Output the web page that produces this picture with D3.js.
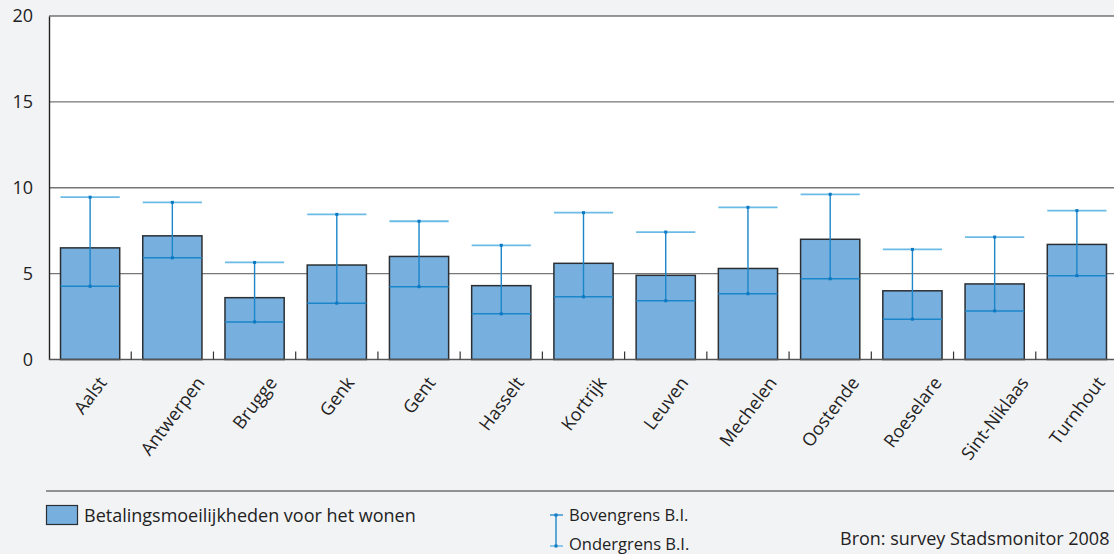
<!DOCTYPE html>
<html>
<head>
<meta charset="utf-8">
<script src="https://cdn.jsdelivr.net/npm/d3@7"></script>
<style>
  html, body { margin: 0; padding: 0; background: #f2f3f5; overflow: hidden; }
  svg { display: block; font-family: "Open Sans", "Noto Sans", sans-serif; }
</style>
</head>
<body>
<svg id="chart" width="1114" height="554"></svg>
<script>
// Steden en aandeel met betalingsmoeilijkheden (%), met betrouwbaarheidsinterval
const cities = ["Aalst", "Antwerpen", "Brugge", "Genk", "Gent", "Hasselt", "Kortrijk",
  "Leuven", "Mechelen", "Oostende", "Roeselare", "Sint-Niklaas", "Turnhout"];
const shares = [6.5, 7.2, 3.6, 5.5, 6.0, 4.3, 5.6, 4.9, 5.3, 7.0, 4.0, 4.4, 6.7];
const upper  = [9.45, 9.15, 5.65, 8.45, 8.05, 6.65, 8.55, 7.42, 8.86, 9.62, 6.41, 7.13, 8.67];
const lower  = [4.26, 5.92, 2.19, 3.28, 4.24, 2.66, 3.65, 3.42, 3.83, 4.70, 2.35, 2.83, 4.88];
const yTicks = [0, 5, 10, 15, 20];

const svg = d3.select("#chart");
const plotLeft = 49, plotRight = 1118, plotTop = 16, plotBottom = 359.5;

const x = d3.scaleBand().domain(cities).range([plotLeft, plotRight]).paddingInner(0.28).paddingOuter(0.14);
const y = d3.scaleLinear().domain([0, 20]).range([plotBottom, plotTop]);

// plot background
svg.append("rect").attr("x", plotLeft).attr("y", plotTop)
  .attr("width", plotRight - plotLeft).attr("height", plotBottom - plotTop).attr("fill", "#ffffff");

// horizontal grid lines
svg.append("g").selectAll("line").data(yTicks.filter(d => d > 0 && d < 20)).join("line")
  .attr("x1", plotLeft).attr("x2", plotRight)
  .attr("y1", d => y(d)).attr("y2", d => y(d))
  .attr("stroke", "#777").attr("stroke-width", 1.4);

// top border
svg.append("line").attr("x1", plotLeft).attr("x2", plotRight).attr("y1", plotTop).attr("y2", plotTop)
  .attr("stroke", "#333").attr("stroke-width", 1.2);

// y axis labels
const yAxis = d3.axisLeft(y).tickValues(yTicks).tickSize(0).tickPadding(16);
const gy = svg.append("g").attr("transform", `translate(${plotLeft},0)`).call(yAxis);
gy.select(".domain").attr("stroke", "#222").attr("stroke-width", 1.4);
gy.selectAll("text").attr("font-size", 18).attr("fill", "#222")
  .attr("font-family", "'Open Sans', sans-serif");

// bars
svg.append("g").selectAll("rect").data(cities).join("rect")
  .attr("x", d => x(d)).attr("width", x.bandwidth())
  .attr("y", (d, i) => y(shares[i])).attr("height", (d, i) => y(0) - y(shares[i]))
  .attr("fill", "#77b0de").attr("stroke", "#2b2f33").attr("stroke-width", 1.5);

// confidence intervals
const ci = svg.append("g");
cities.forEach((c, i) => {
  const cx = x(c) + x.bandwidth() / 2;
  ci.append("line").attr("x1", x(c)).attr("x2", x(c) + x.bandwidth())
    .attr("y1", y(upper[i])).attr("y2", y(upper[i]))
    .attr("stroke", "#6bbbe6").attr("stroke-width", 1.8);
  ci.append("line").attr("x1", x(c)).attr("x2", x(c) + x.bandwidth())
    .attr("y1", y(lower[i])).attr("y2", y(lower[i]))
    .attr("stroke", "#1b86c9").attr("stroke-width", 1.5);
  ci.append("line").attr("x1", cx).attr("x2", cx)
    .attr("y1", y(upper[i])).attr("y2", y(lower[i]))
    .attr("stroke", "#1b86c9").attr("stroke-width", 1.4);
  [upper[i], lower[i]].forEach(v => {
    ci.append("rect").attr("x", cx - 1.5).attr("y", y(v) - 1.5)
      .attr("width", 3).attr("height", 3).attr("fill", "#0a78c2");
  });
});

// x axis baseline and separating ticks
svg.append("line").attr("x1", plotLeft).attr("x2", plotRight).attr("y1", plotBottom).attr("y2", plotBottom)
  .attr("stroke", "#555").attr("stroke-width", 1.6);
const step = x.step();
const boundaries = d3.range(1, cities.length).map(i => x(cities[i]) - step * x.paddingInner() / 2);
svg.append("g").selectAll("line").data(boundaries).join("line")
  .attr("x1", d => d).attr("x2", d => d).attr("y1", plotBottom).attr("y2", plotBottom - 8)
  .attr("stroke", "#333").attr("stroke-width", 1.2);

// rotated category labels: each label's box is centred under its bar and hangs from a common top line
const angle = 53, rad = angle * Math.PI / 180, capH = 13, labelTop = 375;
svg.append("g").selectAll("text").data(cities).join("text")
  .attr("text-anchor", "middle").attr("y", capH / 2)
  .attr("font-size", 18).attr("fill", "#222").text(d => d)
  .attr("transform", function (d) {
    const len = this.getComputedTextLength();
    const halfH = (len * Math.sin(rad) + capH * Math.cos(rad)) / 2;
    return `translate(${x(d) + x.bandwidth() / 2},${labelTop + halfH}) rotate(${-angle})`;
  });

// legend
svg.append("line").attr("x1", 46).attr("x2", 1114).attr("y1", 491).attr("y2", 491)
  .attr("stroke", "#333").attr("stroke-width", 1);
svg.append("rect").attr("x", 46.5).attr("y", 505.5).attr("width", 31).attr("height", 19)
  .attr("fill", "#77b0de").attr("stroke", "#2b2f33").attr("stroke-width", 1.2);
svg.append("text").attr("x", 84).attr("y", 522).attr("font-size", 18).attr("fill", "#222")
  .text("Betalingsmoeilijkheden voor het wonen");

const lg = svg.append("g");
lg.append("line").attr("x1", 556).attr("x2", 556).attr("y1", 515).attr("y2", 546)
  .attr("stroke", "#1b86c9").attr("stroke-width", 1.4);
lg.append("line").attr("x1", 550).attr("x2", 563).attr("y1", 515).attr("y2", 515)
  .attr("stroke", "#1b86c9").attr("stroke-width", 1.3);
lg.append("line").attr("x1", 550).attr("x2", 563).attr("y1", 546).attr("y2", 546)
  .attr("stroke", "#6bbbe6").attr("stroke-width", 1.5);
[515, 546].forEach(yy => lg.append("rect").attr("x", 554.5).attr("y", yy - 1.5)
  .attr("width", 3).attr("height", 3).attr("fill", "#0a78c2"));
lg.append("text").attr("x", 569).attr("y", 521).attr("font-size", 16.5).attr("fill", "#222")
  .text("Bovengrens B.I.");
lg.append("text").attr("x", 569).attr("y", 550).attr("font-size", 16.5).attr("fill", "#222")
  .text("Ondergrens B.I.");
svg.append("text").attr("x", 840).attr("y", 545).attr("font-size", 18).attr("fill", "#222")
  .text("Bron: survey Stadsmonitor 2008");
</script>
</body>
</html>
